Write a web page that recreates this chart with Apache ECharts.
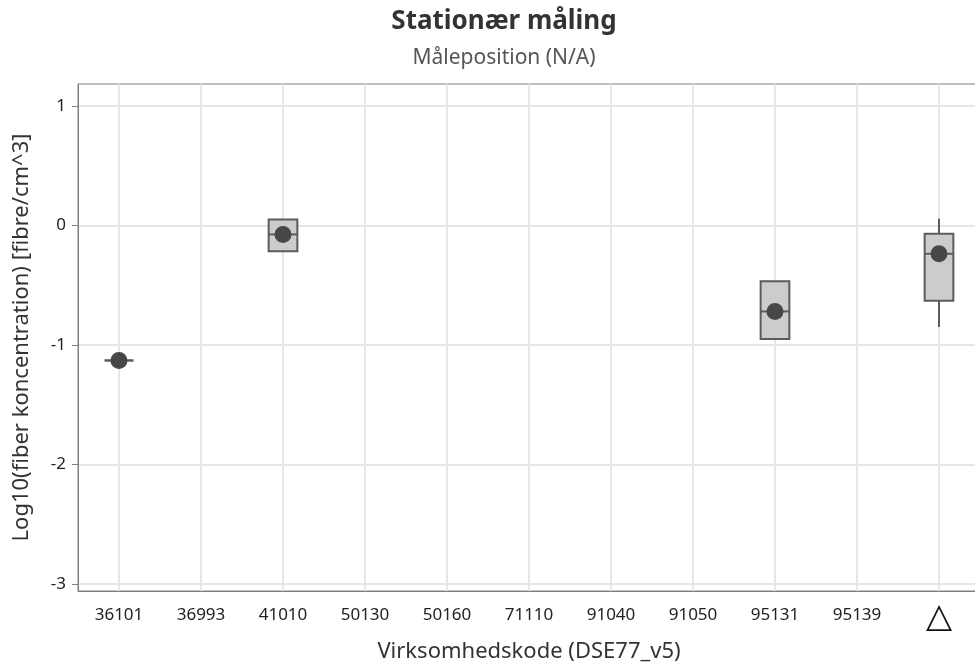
<!DOCTYPE html>
<html>
<head>
<meta charset="utf-8">
<title>Stationær måling</title>
<script src="https://cdn.jsdelivr.net/npm/echarts@6/dist/echarts.min.js"></script>
<style>
  html, body { margin: 0; padding: 0; background: #fff; }
  #chart { width: 975px; height: 670px; }
</style>
</head>
<body>
<div id="chart"></div>
<script>
// categories on the x axis (last one is shown as a triangle)
var categories = ['36101', '36993', '41010', '50130', '50160', '71110', '91040', '91050', '95131', '95139', '△'];

// box statistics per category, null = no measurements
var boxMin    = [-1.13, null, -0.215, null, null, null, null, null, -0.95,  null, -0.85];
var boxQ1     = [-1.13, null, -0.215, null, null, null, null, null, -0.95,  null, -0.63];
var boxMedian = [-1.13, null, -0.075, null, null, null, null, null, -0.72,  null, -0.237];
var boxQ3     = [-1.13, null,  0.05,  null, null, null, null, null, -0.467, null, -0.07];
var boxMax    = [-1.13, null,  0.05,  null, null, null, null, null, -0.467, null,  0.056];
// dark dots (mean)
var dotValues = [-1.13, null, -0.075, null, null, null, null, null, -0.72, null, -0.237];

var yTicks = [-3, -2, -1, 0, 1];

var FONT = 'Noto Sans';
var AXIS_COLOR = '#808080';
var GRID_COLOR = '#e6e6e6';

var chart = echarts.init(document.getElementById('chart'));

var boxData = [];
var dotData = [];
for (var i = 0; i < categories.length; i++) {
    if (boxMedian[i] != null) {
        boxData.push([i, boxMin[i], boxQ1[i], boxMedian[i], boxQ3[i], boxMax[i]]);
    }
    if (dotValues[i] != null) {
        dotData.push([i, dotValues[i]]);
    }
}
// vertical gridlines sit on the category centres
var gridLines = categories.map(function (c) { return { xAxis: c }; });

function renderBox(params, api) {
    var x = api.value(0);
    var lo = api.coord([x, api.value(1)]);
    var q1 = api.coord([x, api.value(2)]);
    var md = api.coord([x, api.value(3)]);
    var q3 = api.coord([x, api.value(4)]);
    var hi = api.coord([x, api.value(5)]);
    var half = api.size([1, 0])[0] * 0.175;
    var stroke = { stroke: '#5c5c5c', lineWidth: 2 };
    return {
        type: 'group',
        children: [
            { type: 'line', shape: { x1: lo[0], y1: lo[1], x2: q1[0], y2: q1[1] }, style: stroke },
            { type: 'line', shape: { x1: q3[0], y1: q3[1], x2: hi[0], y2: hi[1] }, style: stroke },
            { type: 'rect', shape: { x: q3[0] - half, y: q3[1], width: half * 2, height: q1[1] - q3[1] },
              style: { fill: '#cccccc', stroke: '#5c5c5c', lineWidth: 2 } },
            { type: 'line', shape: { x1: md[0] - half, y1: md[1], x2: md[0] + half, y2: md[1] }, style: stroke }
        ]
    };
}

var option = {
    animation: false,
    textStyle: { fontFamily: FONT },
    title: {
        text: 'Stationær måling',
        subtext: 'Måleposition (N/A)',
        left: 499,
        textAlign: 'center',
        top: 4,
        itemGap: 13,
        textStyle: { fontFamily: FONT, fontSize: 26, fontWeight: 'bold', color: '#333' },
        subtextStyle: { fontFamily: FONT, fontSize: 21, color: '#555' }
    },
    grid: {
        left: 78,
        top: 84,
        width: 902,
        height: 507,
        outerBoundsMode: 'none',
        containLabel: false,
        show: true,
        borderColor: AXIS_COLOR,
        borderWidth: 1
    },
    xAxis: {
        type: 'category',
        data: categories,
        position: 'bottom',
        axisLine: { onZero: false, lineStyle: { color: AXIS_COLOR, width: 1 } },
        axisTick: { alignWithLabel: true, length: 6, lineStyle: { color: AXIS_COLOR } },
        axisLabel: {
            color: '#222', fontSize: 17, margin: 16, fontFamily: FONT,
            formatter: function (v) { return v === '△' ? '{tri|△}' : v; },
            rich: { tri: { fontSize: 34, lineHeight: 22, color: '#111', fontFamily: 'DejaVu Sans' } }
        },
        splitLine: { show: false },
        name: 'Virksomhedskode (DSE77_v5)',
        nameLocation: 'middle',
        nameGap: 50,
        nameTextStyle: { fontSize: 22, color: '#333', fontFamily: FONT }
    },
    yAxis: {
        type: 'value',
        min: -3.06,
        max: 1.184,
        axisLine: { show: true, lineStyle: { color: AXIS_COLOR, width: 1 } },
        axisTick: { show: true, length: 6, customValues: yTicks, lineStyle: { color: AXIS_COLOR } },
        axisLabel: { customValues: yTicks, color: '#222', fontSize: 17, margin: 12, fontFamily: FONT },
        splitLine: { show: true, lineStyle: { color: GRID_COLOR, width: 2 } },
        name: 'Log10(fiber koncentration) [fibre/cm^3]',
        nameLocation: 'middle',
        nameGap: 45,
        nameTextStyle: { fontSize: 22, color: '#333', fontFamily: FONT }
    },
    series: [
        {
            type: 'line',
            name: 'grid',
            data: [],
            silent: true,
            z: 1,
            markLine: {
                silent: true,
                z: 1,
                symbol: 'none',
                label: { show: false },
                lineStyle: { color: GRID_COLOR, width: 2, type: 'solid' },
                data: gridLines
            }
        },
        {
            type: 'custom',
            name: 'box',
            renderItem: renderBox,
            encode: { x: 0, y: [1, 2, 3, 4, 5] },
            data: boxData,
            z: 3
        },
        {
            type: 'scatter',
            name: 'mean',
            symbol: 'circle',
            symbolSize: 17,
            itemStyle: { color: '#474747', opacity: 1 },
            data: dotData,
            z: 4
        }
    ]
};

chart.setOption(option);
</script>
</body>
</html>
